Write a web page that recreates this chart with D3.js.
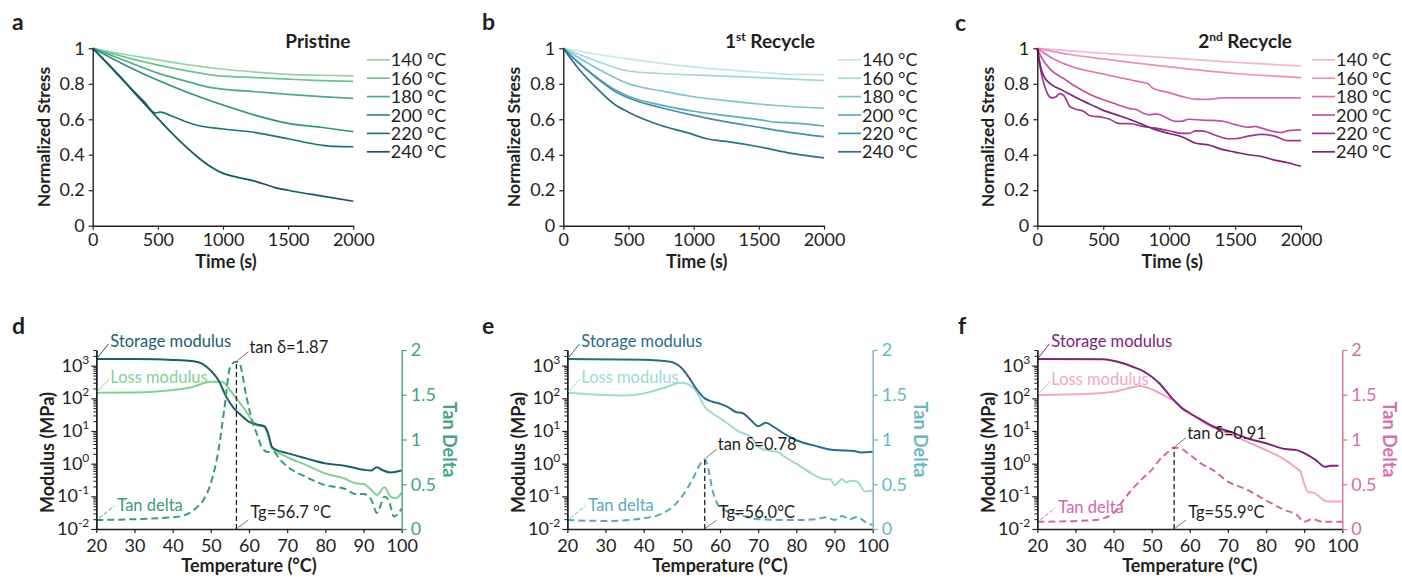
<!DOCTYPE html>
<html>
<head>
<meta charset="utf-8">
<script src="https://cdn.jsdelivr.net/npm/d3@7"></script>
<style>
  body { margin: 0; background: #fff; }
  svg { font-family: Lato, "Open Sans", sans-serif; }
</style>
</head>
<body>
<svg id="fig" width="1402" height="577"></svg>
<script>
// ---------- stress relaxation data: [time (s), normalized stress] ----------
const timeTicks = [0, 500, 1000, 1500, 2000];
const stressTicks = [0, 0.2, 0.4, 0.6, 0.8, 1];
const tempLabels = ["140 °C", "160 °C", "180 °C", "200 °C", "220 °C", "240 °C"];

const pristineSeries = [
  [[0,1],[250,0.965],[500,0.935],[750,0.905],[1000,0.882],[1250,0.866],[1500,0.853],[1750,0.848],[2000,0.845]],
  [[0,1],[250,0.95],[500,0.905],[750,0.87],[950,0.846],[1000,0.843],[1250,0.835],[1500,0.826],[1750,0.818],[2000,0.813]],
  [[0,1],[250,0.93],[500,0.86],[750,0.808],[900,0.78],[1000,0.77],[1250,0.755],[1500,0.74],[1750,0.728],[2000,0.718]],
  [[0,1],[250,0.905],[500,0.82],[750,0.745],[1000,0.68],[1250,0.622],[1500,0.577],[1750,0.555],[2000,0.53]],
  [[0,1],[100,0.925],[200,0.85],[300,0.77],[400,0.695],[480,0.636],[520,0.64],[600,0.62],[700,0.59],[800,0.566],[1000,0.545],[1250,0.525],[1500,0.49],[1750,0.455],[1850,0.447],[2000,0.445]],
  [[0,1],[100,0.925],[200,0.845],[300,0.765],[400,0.685],[500,0.605],[600,0.527],[700,0.455],[800,0.39],[900,0.335],[1000,0.295],[1100,0.275],[1250,0.25],[1400,0.215],[1500,0.2],[1750,0.168],[2000,0.138]]
];

const recycle1Series = [
  [[0,1],[250,0.968],[500,0.94],[750,0.915],[1000,0.895],[1250,0.878],[1500,0.865],[1750,0.853],[2000,0.852]],
  [[0,1],[250,0.93],[500,0.872],[750,0.858],[1000,0.85],[1500,0.835],[2000,0.818]],
  [[0,1],[250,0.89],[500,0.8],[750,0.76],[1000,0.727],[1250,0.705],[1500,0.686],[1750,0.672],[2000,0.662]],
  [[0,1],[100,0.93],[250,0.84],[400,0.765],[500,0.73],[750,0.68],[1000,0.645],[1250,0.62],[1500,0.598],[1650,0.582],[1750,0.58],[2000,0.562]],
  [[0,1],[100,0.93],[250,0.835],[400,0.755],[500,0.72],[750,0.665],[1000,0.622],[1250,0.585],[1500,0.555],[1750,0.525],[2000,0.502]],
  [[0,1],[100,0.9],[250,0.78],[400,0.68],[500,0.64],[750,0.565],[950,0.525],[1100,0.49],[1250,0.475],[1500,0.445],[1750,0.408],[2000,0.382]]
];

const recycle2Series = [
  [[0,1],[500,0.972],[1000,0.946],[1500,0.921],[2000,0.9]],
  [[0,1],[250,0.965],[500,0.94],[1000,0.895],[1500,0.858],[2000,0.835]],
  [[0,1],[100,0.95],[250,0.9],[500,0.855],[750,0.815],[840,0.8],[870,0.778],[1000,0.75],[1100,0.728],[1200,0.713],[1300,0.712],[1400,0.72],[1500,0.72],[2000,0.72]],
  [[0,1],[30,0.95],[100,0.88],[200,0.83],[300,0.78],[400,0.74],[500,0.71],[600,0.685],[700,0.66],[750,0.655],[800,0.635],[850,0.625],[900,0.63],[950,0.62],[1000,0.6],[1050,0.588],[1100,0.59],[1150,0.6],[1250,0.595],[1400,0.59],[1500,0.57],[1600,0.555],[1650,0.56],[1700,0.55],[1800,0.53],[1850,0.525],[1900,0.535],[2000,0.54]],
  [[0,1],[20,0.9],[50,0.8],[80,0.74],[110,0.72],[140,0.725],[170,0.745],[200,0.735],[250,0.67],[300,0.655],[350,0.645],[400,0.62],[500,0.61],[550,0.6],[600,0.58],[650,0.575],[700,0.575],[800,0.56],[900,0.55],[1000,0.535],[1100,0.52],[1150,0.52],[1200,0.535],[1250,0.535],[1350,0.51],[1450,0.49],[1500,0.49],[1600,0.505],[1700,0.515],[1800,0.505],[1900,0.48],[2000,0.48]],
  [[0,1],[30,0.88],[60,0.83],[100,0.8],[200,0.76],[300,0.72],[400,0.685],[500,0.65],[600,0.625],[700,0.6],[800,0.57],[900,0.54],[1000,0.52],[1100,0.5],[1200,0.465],[1250,0.46],[1300,0.455],[1400,0.43],[1500,0.415],[1600,0.4],[1700,0.39],[1800,0.37],[1900,0.355],[2000,0.335]]
];

// ---------- DMA data: [temperature (°C), modulus (MPa)] and [temperature, tan delta] ----------
const tempTicks = [20, 30, 40, 50, 60, 70, 80, 90, 100];
const modulusDecades = [-2, -1, 0, 1, 2, 3];
const tanTicks = [0, 0.5, 1, 1.5, 2];

const pristineStorage = [[20,1600],[30,1590],[40,1500],[45,1380],[48,1100],[50,700],[52,360],[54,115],[56,50],[58,30],[60,19],[62,16],[64,14],[65,8.5],[66,3.3],[67,2.7],[70,2.1],[75,1.45],[80,1.02],[85,0.87],[90,0.65],[92,0.62],[93.5,0.78],[95,0.63],[97,0.54],[100,0.62]];
const pristineLoss = [[20,148],[30,150],[35,158],[40,180],[45,220],[50,320],[53,320],[55,180],[57,90],[59,44],[61,19.5],[62,15],[64,13.5],[65,7.6],[66,3.0],[70,1.6],[75,0.9],[80,0.5],[85,0.35],[88,0.25],[90,0.24],[92,0.16],[93.5,0.11],[95.5,0.19],[97,0.1],[98.5,0.087],[100,0.13]];
const pristineTan = [[20,0.1],[40,0.13],[44,0.17],[46,0.23],[48,0.32],[50,0.51],[52,0.88],[53.5,1.33],[55,1.8],[56,1.86],[56.7,1.87],[57.5,1.86],[58.3,1.72],[59,1.55],[60,1.35],[61,1.18],[62,1.07],[63.5,0.9],[65,0.86],[66.5,0.86],[68,0.78],[70,0.7],[75,0.58],[80,0.49],[85,0.45],[88,0.39],[90,0.39],[92,0.33],[93.5,0.18],[95.5,0.36],[96.5,0.33],[98,0.14],[100,0.23]];

const recycle1Storage = [[20,1600],[40,1520],[47,1320],[50,830],[52,410],[54,180],[56,100],[58,79],[60,68],[62,55],[64,39],[66,35],[68,22],[70,14],[72,18],[74,13.5],[76,9.5],[80,5.2],[85,3.5],[90,2.6],[95,2.45],[97,2.2],[100,2.3]];
const recycle1Loss = [[20,148],[30,126],[35,122],[40,140],[45,204],[50,300],[52,257],[54,150],[56,55],[58,35],[60,24.5],[62,17],[65,9.5],[68,6.8],[70,3.3],[72,2.6],[75,2.3],[77,1.6],[80,1.0],[84,0.5],[87,0.34],[89,0.33],[90,0.22],[92,0.34],[93,0.27],[94.5,0.3],[96,0.28],[98,0.14],[100,0.15]];
const recycle1Tan = [[20,0.1],[30,0.09],[40,0.12],[45,0.175],[50,0.36],[53,0.57],[55,0.74],[56,0.78],[57,0.66],[58,0.44],[59,0.31],[60,0.24],[65,0.16],[70,0.11],[80,0.1],[85,0.11],[88,0.13],[90,0.1],[92,0.145],[94,0.11],[96,0.135],[98,0.08],[100,0.045]];

const recycle2Storage = [[20,1600],[37,1560],[42,1230],[45,930],[48,660],[50,460],[52,290],[55,112],[58,49],[60,35],[63,22],[66,14],[70,10],[75,6],[80,4.2],[85,2.8],[88,2.6],[90,2.1],[93,1.3],[95.5,0.8],[97,0.87],[99,0.87]];
const recycle2Loss = [[20,126],[35,140],[40,158],[45,220],[47,240],[50,190],[53,126],[56,80],[60,35],[65,15],[70,8.5],[75,4.7],[80,2.6],[85,1.3],[88,0.72],[89,0.58],[90,0.25],[91,0.135],[92.5,0.13],[95,0.078],[96,0.07],[100,0.07]];
const recycle2Tan = [[20,0.08],[35,0.1],[38,0.13],[40,0.175],[42,0.29],[45,0.45],[48,0.58],[50,0.66],[52,0.77],[54,0.85],[55.9,0.91],[57.5,0.9],[60,0.83],[63,0.73],[66,0.66],[70,0.53],[75,0.44],[80,0.32],[85,0.21],[88,0.16],[90,0.08],[92,0.11],[95,0.08],[100,0.08]];

const glassTransition = [56.7, 56.0, 55.9];
const peakTanDelta = [1.87, 0.78, 0.91];
const tgLabels = ["Tg=56.7 °C", "Tg=56.0°C", "Tg=55.9°C"];

// ---------- palettes ----------
const greens = ["#92d4a2", "#6fc190", "#4eab86", "#33927f", "#227274", "#175663"];
const teals = ["#c6e8e5", "#a3d8d6", "#7fc5c9", "#5eacba", "#4290a8", "#2d6f8c"];
const pinks = ["#f3b5cd", "#e991bb", "#d873ac", "#c1529f", "#a23792", "#7b2479"];

const INK = "#231f20";
const svg = d3.select("#fig");

function styleAxis(g, color) {
  g.select(".domain").attr("stroke", color).attr("stroke-width", 1.4);
  g.selectAll(".tick line").attr("stroke", color).attr("stroke-width", 1.2);
  g.selectAll(".tick text").attr("fill", color).attr("font-size", 18)
    .attr("font-family", "Lato, 'Open Sans', sans-serif");
}

function panelLetter(x, y, s) {
  svg.append("text").attr("x", x).attr("y", y).attr("font-size", 23)
    .attr("font-weight", 700).attr("fill", INK).text(s);
}

// ---------- stress relaxation panel ----------
function relaxPanel(cfg) {
  const x = d3.scaleLinear().domain([0, 2000]).range([cfg.left, cfg.right]);
  const y = d3.scaleLinear().domain([0, 1]).range([cfg.bottom, cfg.top]);
  const g = svg.append("g");

  const line = d3.line().x(d => x(d[0])).y(d => y(d[1])).curve(d3.curveMonotoneX);
  cfg.series.forEach((s, i) => {
    g.append("path").attr("d", line(s)).attr("fill", "none")
      .attr("stroke", cfg.colors[i]).attr("stroke-width", 1.7);
  });

  const gx = g.append("g").attr("transform", `translate(0,${cfg.bottom})`)
    .call(d3.axisBottom(x).tickValues(timeTicks).tickSize(4).tickSizeOuter(0).tickPadding(4).tickFormat(d3.format("d")));
  styleAxis(gx, INK);
  const gy = g.append("g").attr("transform", `translate(${cfg.left},0)`)
    .call(d3.axisLeft(y).tickValues(stressTicks).tickSize(4).tickSizeOuter(0).tickPadding(4).tickFormat(d => d === 0 || d === 1 ? d3.format("d")(d) : d3.format(".1f")(d)));
  styleAxis(gy, INK);

  // axis titles
  g.append("text").attr("transform", `translate(${cfg.left - 43},${(cfg.top + cfg.bottom) / 2}) rotate(-90)`)
    .attr("text-anchor", "middle").attr("font-size", 17.5).attr("font-weight", 700).attr("fill", INK)
    .text("Normalized Stress");
  g.append("text").attr("x", (cfg.left + cfg.right) / 2 + 3).attr("y", cfg.bottom + 42)
    .attr("text-anchor", "middle").attr("font-size", 18).attr("font-weight", 700).attr("fill", INK)
    .text("Time (s)");

  // sample title
  const t = g.append("text").attr("x", cfg.right - cfg.titleInset).attr("y", cfg.top)
    .attr("text-anchor", "end").attr("font-size", 19).attr("font-weight", 700).attr("fill", INK);
  t.append("tspan").text(cfg.title[0]);
  if (cfg.title[1]) {
    t.append("tspan").attr("font-size", 12).attr("dy", -7).text(cfg.title[1]);
    t.append("tspan").attr("dy", 7).text(cfg.title[2]);
  }

  // legend
  const lx = cfg.right + cfg.legendGap;
  tempLabels.forEach((lab, i) => {
    const cy = cfg.top + 11.5 + i * 18.4;
    g.append("line").attr("x1", lx).attr("x2", lx + 23).attr("y1", cy).attr("y2", cy)
      .attr("stroke", cfg.colors[i]).attr("stroke-width", 1.7);
    g.append("text").attr("x", lx + 24).attr("y", cy + 6.5).attr("font-size", 18)
      .attr("fill", INK).text(lab);
  });
}

// ---------- DMA panel ----------
function dmaPanel(cfg) {
  const x = d3.scaleLinear().domain([20, 100]).range([cfg.left, cfg.right]);
  const yL = d3.scaleLog().domain([0.01, Math.pow(10, 3.48)]).range([cfg.bottom, cfg.top]);
  const yR = d3.scaleLinear().domain([0, 2]).range([cfg.bottom, cfg.top]);
  const g = svg.append("g");

  const modLine = d3.line().x(d => x(d[0])).y(d => yL(d[1])).curve(d3.curveMonotoneX);
  const tanLine = d3.line().x(d => x(d[0])).y(d => yR(d[1])).curve(d3.curveMonotoneX);

  g.append("path").attr("d", modLine(cfg.loss)).attr("fill", "none")
    .attr("stroke", cfg.lossColor).attr("stroke-width", 2);
  g.append("path").attr("d", modLine(cfg.storage)).attr("fill", "none")
    .attr("stroke", cfg.storageColor).attr("stroke-width", 2);
  g.append("path").attr("d", tanLine(cfg.tan)).attr("fill", "none")
    .attr("stroke", cfg.tanColor).attr("stroke-width", 2).attr("stroke-dasharray", "7,4");

  // Tg marker
  const px = x(cfg.tg), py = yR(cfg.peak);
  g.append("line").attr("x1", px).attr("x2", px).attr("y1", cfg.bottom).attr("y2", py)
    .attr("stroke", INK).attr("stroke-width", 1.3).attr("stroke-dasharray", "5,3");
  g.append("line").attr("x1", px + 1).attr("y1", py - 1).attr("x2", px + 12).attr("y2", py - 10)
    .attr("stroke", "#666").attr("stroke-width", 0.9);
  g.append("text").attr("x", px + 13).attr("y", py - 9).attr("font-size", 16.5).attr("fill", INK)
    .text("tan δ=" + d3.format(".2f")(cfg.peak));
  g.append("line").attr("x1", px + 1).attr("y1", cfg.bottom - 1).attr("x2", px + 12).attr("y2", cfg.bottom - 9)
    .attr("stroke", "#666").attr("stroke-width", 0.9);
  g.append("text").attr("x", px + 14).attr("y", cfg.bottom - 11).attr("font-size", 16.5).attr("fill", INK)
    .text(cfg.tgLabel);

  // axes
  const gx = g.append("g").attr("transform", `translate(0,${cfg.bottom})`)
    .call(d3.axisBottom(x).tickValues(tempTicks).tickSize(4).tickSizeOuter(0).tickPadding(6).tickFormat(d3.format("d")));
  styleAxis(gx, INK);

  const majors = modulusDecades.map(k => Math.pow(10, k));
  const minors = [];
  modulusDecades.forEach(k => {
    for (let m = 2; m <= 9; m++) {
      const v = m * Math.pow(10, k);
      if (v <= yL.domain()[1]) minors.push(v);
    }
  });
  const gmin = g.append("g").attr("transform", `translate(${cfg.left},0)`)
    .call(d3.axisLeft(yL).tickValues(minors).tickSize(3).tickSizeOuter(0).tickFormat(() => ""));
  styleAxis(gmin, INK);
  gmin.selectAll(".tick line").attr("stroke-width", 1);
  const gy = g.append("g").attr("transform", `translate(${cfg.left},0)`)
    .call(d3.axisLeft(yL).tickValues(majors).tickSize(5).tickSizeOuter(0).tickFormat(() => ""));
  styleAxis(gy, INK);
  modulusDecades.forEach(k => {
    const t = g.append("text").attr("x", cfg.left - 7).attr("y", yL(Math.pow(10, k)) + 6)
      .attr("text-anchor", "end").attr("font-size", 18).attr("fill", INK);
    t.append("tspan").text("10");
    t.append("tspan").attr("font-size", 12).attr("dy", -8).text(String(k));
  });

  const gr = g.append("g").attr("transform", `translate(${cfg.right},0)`)
    .call(d3.axisRight(yR).tickValues(tanTicks).tickSize(5).tickSizeOuter(0).tickPadding(4).tickFormat(d => String(d)));
  styleAxis(gr, cfg.axisColor);

  // axis titles
  g.append("text").attr("transform", `translate(${cfg.left - 42},${(cfg.top + cfg.bottom) / 2 + 13}) rotate(-90)`)
    .attr("text-anchor", "middle").attr("font-size", 18).attr("font-weight", 700).attr("fill", INK)
    .text("Modulus (MPa)");
  g.append("text").attr("transform", `translate(${cfg.right + 41},${(cfg.top + cfg.bottom) / 2}) rotate(90)`)
    .attr("text-anchor", "middle").attr("font-size", 18).attr("font-weight", 700).attr("fill", cfg.axisColor)
    .text("Tan Delta");
  g.append("text").attr("x", (cfg.left + cfg.right) / 2).attr("y", cfg.bottom + 43)
    .attr("text-anchor", "middle").attr("font-size", 18).attr("font-weight", 700).attr("fill", INK)
    .text("Temperature (°C)");

  // curve labels with leaders
  const s0 = yL(cfg.storage[0][1]), l0 = yL(cfg.loss[0][1]), t0 = yR(cfg.tan[0][1]);
  g.append("line").attr("x1", cfg.left + 1).attr("y1", s0 - 1).attr("x2", cfg.left + 12).attr("y2", s0 - 15)
    .attr("stroke", cfg.storageColor).attr("stroke-width", 1);
  g.append("text").attr("x", cfg.left + 14).attr("y", s0 - 12).attr("font-size", 16.5)
    .attr("fill", cfg.storageColor).text("Storage modulus");
  g.append("line").attr("x1", cfg.left + 1).attr("y1", l0 - 1).attr("x2", cfg.left + 13).attr("y2", l0 - 14)
    .attr("stroke", cfg.lossColor).attr("stroke-width", 1);
  g.append("text").attr("x", cfg.left + 14).attr("y", l0 - 10).attr("font-size", 16.5)
    .attr("fill", cfg.lossColor).text("Loss modulus");
  g.append("line").attr("x1", cfg.left + 3).attr("y1", t0 - 2).attr("x2", cfg.left + 18).attr("y2", t0 - 14)
    .attr("stroke", cfg.tanColor).attr("stroke-width", 1).attr("stroke-dasharray", "4,2");
  g.append("text").attr("x", cfg.left + 21).attr("y", t0 - 9).attr("font-size", 16.5)
    .attr("fill", cfg.tanColor).text("Tan delta");
}

// ---------- top row ----------
relaxPanel({ left: 92.7, right: 353.3, top: 48.3, bottom: 225.7, series: pristineSeries, colors: greens,
  title: ["Pristine"], titleInset: 3, legendGap: 13.5 });
relaxPanel({ left: 563.3, right: 824, top: 48.3, bottom: 225.7, series: recycle1Series, colors: teals,
  title: ["1", "st", " Recycle"], titleInset: 9, legendGap: 14 });
relaxPanel({ left: 1037.3, right: 1301, top: 48.3, bottom: 225.7, series: recycle2Series, colors: pinks,
  title: ["2", "nd", " Recycle"], titleInset: 9, legendGap: 11 });

panelLetter(12, 30, "a");
panelLetter(482, 30, "b");
panelLetter(955, 31, "c");

// ---------- bottom row ----------
dmaPanel({ left: 96.3, right: 401.7, top: 350, bottom: 529,
  storage: pristineStorage, loss: pristineLoss, tan: pristineTan,
  tg: glassTransition[0], peak: peakTanDelta[0], tgLabel: tgLabels[0],
  storageColor: "#1c5f67", lossColor: "#86cf98", tanColor: "#3b9a78", axisColor: "#45a283" });
dmaPanel({ left: 567.3, right: 872.7, top: 350, bottom: 529,
  storage: recycle1Storage, loss: recycle1Loss, tan: recycle1Tan,
  tg: glassTransition[1], peak: peakTanDelta[1], tgLabel: tgLabels[1],
  storageColor: "#2b6b88", lossColor: "#9fd9d3", tanColor: "#5aa9bb", axisColor: "#6ab7c3" });
dmaPanel({ left: 1037.3, right: 1342.3, top: 350, bottom: 529,
  storage: recycle2Storage, loss: recycle2Loss, tan: recycle2Tan,
  tg: glassTransition[2], peak: peakTanDelta[2], tgLabel: tgLabels[2],
  storageColor: "#7e2479", lossColor: "#f2a7c5", tanColor: "#d766a8", axisColor: "#d670a8" });

panelLetter(12, 334, "d");
panelLetter(482, 334, "e");
panelLetter(958, 334, "f");
</script>
</body>
</html>
